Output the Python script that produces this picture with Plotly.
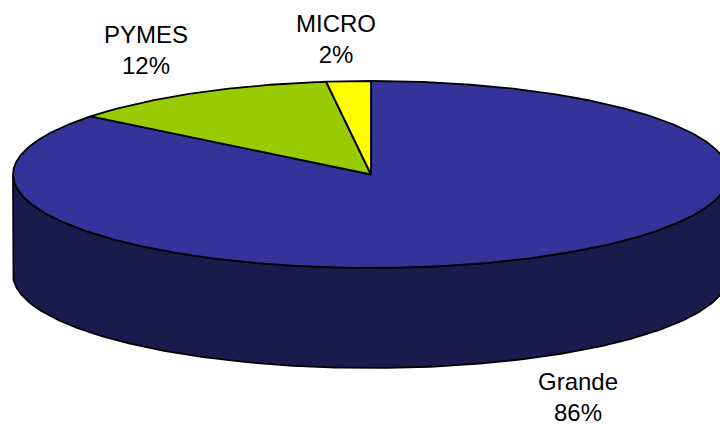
import numpy as np
import plotly.graph_objects as go

categories = ["Grande", "PYMES", "MICRO"]
values = [85.7, 12.3, 2.0]
colors = ["#333399", "#99CC00", "#FFFF00"]
side_colors = ["#1A1A4D", "#4D6600", "#808000"]
label_pos = [(578, 397), (146, 49.5), (336, 38.5)]

CX, CY, RX, RY, DEPTH = 371, 174.5, 358, 93.5, 100


def rim(a, drop=0.0):
    """Angle a in degrees, clockwise from twelve o'clock -> page position."""
    r = np.radians(a)
    return CX + RX * np.sin(r), CY - RY * np.cos(r) + drop


fig = go.Figure()
edges = np.concatenate([[0], np.cumsum(values)]) * 360 / sum(values)

# Side wall: only the part of each slice on the front half of the disc
for i, cat in enumerate(categories):
    lo, hi = max(edges[i], 90), min(edges[i + 1], 270)
    if hi <= lo:
        continue
    a = np.linspace(lo, hi, 240)
    x1, y1 = rim(a)
    x2, y2 = rim(a[::-1], DEPTH)
    fig.add_trace(go.Scatter(
        x=np.r_[x1, x2, x1[0]], y=np.r_[y1, y2, y1[0]], mode="lines",
        fill="toself", fillcolor=side_colors[i],
        line=dict(color="black", width=1.8), hoverinfo="skip", showlegend=False))

# Top face
for i, cat in enumerate(categories):
    a = np.linspace(edges[i], edges[i + 1], max(int(edges[i + 1] - edges[i]) * 3, 8))
    x, y = rim(a)
    fig.add_trace(go.Scatter(
        x=np.r_[CX, x, CX], y=np.r_[CY, y, CY], mode="lines",
        fill="toself", fillcolor=colors[i],
        line=dict(color="black", width=1.8), name=cat, showlegend=False))

for cat, v, (lx, ly) in zip(categories, values, label_pos):
    fig.add_annotation(x=lx, y=ly, text=f"{cat}<br>{v:.0f}%", showarrow=False,
                       font=dict(family="Liberation Sans, Arial, sans-serif", size=24, color="black"),
                       align="center", xanchor="center", yanchor="middle")

fig.update_layout(
    width=720, height=424, margin=dict(l=0, r=0, t=0, b=0),
    paper_bgcolor="white", plot_bgcolor="white", showlegend=False,
    xaxis=dict(range=[0, 720], visible=False, fixedrange=True),
    yaxis=dict(range=[424, 0], visible=False, fixedrange=True),
)
fig.write_html("out.html", config={"displayModeBar": False},
               post_script="document.body.style.margin='0';document.documentElement.style.overflow='hidden';")
